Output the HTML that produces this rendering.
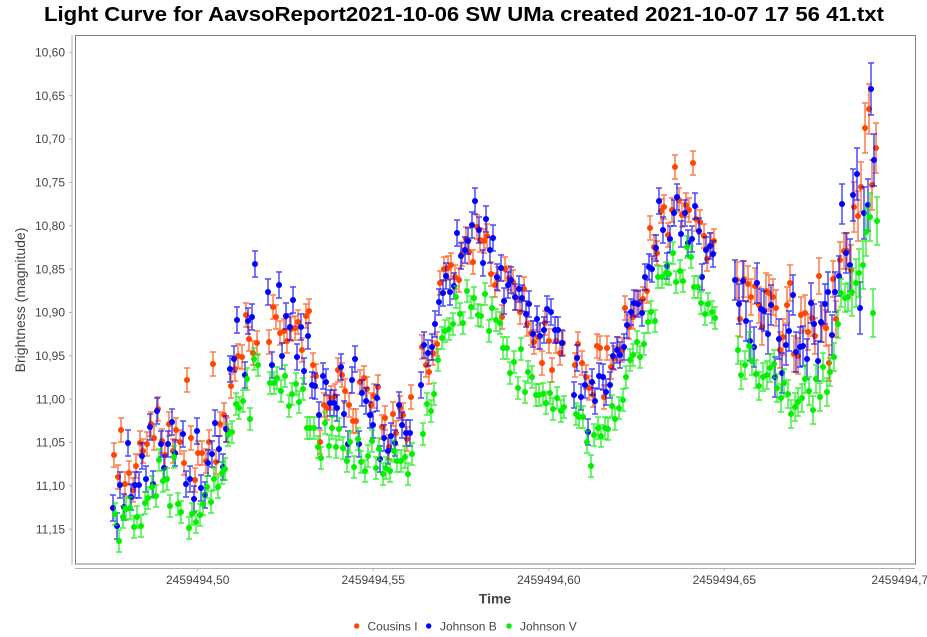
<!DOCTYPE html>
<html><head><meta charset="utf-8"><style>
html,body{margin:0;padding:0;background:#fff;}
svg{display:block;font-family:"Liberation Sans","DejaVu Sans",sans-serif;}
</style></head><body>
<svg width="927" height="637" viewBox="0 0 927 637" xmlns="http://www.w3.org/2000/svg">
<defs>
<g id="o1"><path d="M0-12V12M-3-12h6M-3 12h6" stroke="#ff4500" stroke-opacity=".7" stroke-width="1.5" fill="none"/><circle r="3" fill="#ff4500"/></g>
<g id="o2"><path d="M0-18V18M-3-18h6M-3 18h6" stroke="#ff4500" stroke-opacity=".7" stroke-width="1.5" fill="none"/><circle r="3" fill="#ff4500"/></g>
<g id="o3"><path d="M0-25V25M-3-25h6M-3 25h6" stroke="#ff4500" stroke-opacity=".7" stroke-width="1.5" fill="none"/><circle r="3" fill="#ff4500"/></g>
<g id="b1"><path d="M0-13V13M-3-13h6M-3 13h6" stroke="#0000ff" stroke-opacity=".7" stroke-width="1.5" fill="none"/><circle r="3" fill="#0000ff"/></g>
<g id="b2"><path d="M0-20V20M-3-20h6M-3 20h6" stroke="#0000ff" stroke-opacity=".7" stroke-width="1.5" fill="none"/><circle r="3" fill="#0000ff"/></g>
<g id="b3"><path d="M0-26V26M-3-26h6M-3 26h6" stroke="#0000ff" stroke-opacity=".7" stroke-width="1.5" fill="none"/><circle r="3" fill="#0000ff"/></g>
<g id="g1"><path d="M0-11V11M-3-11h6M-3 11h6" stroke="#00ee00" stroke-opacity=".75" stroke-width="1.5" fill="none"/><circle r="3" fill="#00f000"/></g>
<g id="g2"><path d="M0-14V14M-3-14h6M-3 14h6" stroke="#00ee00" stroke-opacity=".75" stroke-width="1.5" fill="none"/><circle r="3" fill="#00f000"/></g>
<g id="g3"><path d="M0-24V24M-3-24h6M-3 24h6" stroke="#00ee00" stroke-opacity=".75" stroke-width="1.5" fill="none"/><circle r="3" fill="#00f000"/></g>
</defs>
<rect width="927" height="637" fill="#fff"/>
<text x="464" y="21" text-anchor="middle" font-size="20" font-weight="bold" fill="#000" textLength="840" lengthAdjust="spacingAndGlyphs">Light Curve for AavsoReport2021-10-06 SW UMa created 2021-10-07 17 56 41.txt</text>
<!-- axes -->
<line x1="72" y1="35" x2="72" y2="565" stroke="#b0b0b0" stroke-width="1"/>
<line x1="75" y1="568.5" x2="915" y2="568.5" stroke="#b0b0b0" stroke-width="1"/>
<g stroke="#b0b0b0" stroke-width="1">
<line x1="69" y1="52.3" x2="72" y2="52.3"/><line x1="69" y1="95.7" x2="72" y2="95.7"/><line x1="69" y1="139" x2="72" y2="139"/><line x1="69" y1="182.4" x2="72" y2="182.4"/><line x1="69" y1="225.7" x2="72" y2="225.7"/><line x1="69" y1="269.1" x2="72" y2="269.1"/><line x1="69" y1="312.5" x2="72" y2="312.5"/><line x1="69" y1="355.8" x2="72" y2="355.8"/><line x1="69" y1="399.2" x2="72" y2="399.2"/><line x1="69" y1="442.5" x2="72" y2="442.5"/><line x1="69" y1="485.9" x2="72" y2="485.9"/><line x1="69" y1="529.3" x2="72" y2="529.3"/>
<line x1="197.7" y1="568" x2="197.7" y2="571"/><line x1="373.2" y1="568" x2="373.2" y2="571"/><line x1="548.8" y1="568" x2="548.8" y2="571"/><line x1="724.3" y1="568" x2="724.3" y2="571"/><line x1="899.8" y1="568" x2="899.8" y2="571"/>
</g>
<g font-size="12" fill="#444" text-anchor="end">
<text x="65" y="56.5">10,60</text><text x="65" y="99.9">10,65</text><text x="65" y="143.2">10,70</text><text x="65" y="186.6">10,75</text><text x="65" y="229.9">10,80</text><text x="65" y="273.3">10,85</text><text x="65" y="316.7">10,90</text><text x="65" y="360">10,95</text><text x="65" y="403.4">11,00</text><text x="65" y="446.7">11,05</text><text x="65" y="490.1">11,10</text><text x="65" y="533.5">11,15</text>
</g>
<g font-size="12" fill="#444" text-anchor="middle">
<text x="197.7" y="584">2459494,50</text><text x="373.2" y="584">2459494,55</text><text x="548.8" y="584">2459494,60</text><text x="724.3" y="584">2459494,65</text><text x="899.8" y="584">2459494,7</text>
</g>
<text x="495" y="603.5" font-size="14" font-weight="bold" fill="#444" text-anchor="middle">Time</text>
<text transform="translate(25,300) rotate(-90)" font-size="14" fill="#444" text-anchor="middle">Brightness (magnitude)</text>
<!-- legend -->
<circle cx="356.7" cy="626" r="2.7" fill="#ff4500"/><text x="367.5" y="630.5" font-size="12" fill="#444">Cousins I</text>
<circle cx="428.7" cy="626" r="2.7" fill="#0000ff"/><text x="440" y="630.5" font-size="12" fill="#444">Johnson B</text>
<circle cx="509" cy="626" r="2.7" fill="#00f000"/><text x="520" y="630.5" font-size="12" fill="#444">Johnson V</text>
<!-- plot -->
<svg x="75" y="35" width="840" height="529" viewBox="75 35 840 529" overflow="hidden">
<g>
<use href="#o1" x="114" y="455"/><use href="#o1" x="118" y="477"/><use href="#o1" x="121" y="430"/><use href="#o1" x="125" y="484"/><use href="#o1" x="129" y="473"/><use href="#o1" x="133" y="490"/><use href="#o1" x="136" y="466"/><use href="#o1" x="140" y="443"/><use href="#o1" x="143" y="451"/><use href="#o1" x="147" y="444"/><use href="#o1" x="151" y="424"/><use href="#o1" x="154" y="438"/><use href="#o1" x="158" y="409"/><use href="#o1" x="162" y="441"/><use href="#o1" x="165" y="455"/><use href="#o1" x="169" y="424"/><use href="#o1" x="173" y="451"/><use href="#o1" x="176" y="430"/><use href="#o1" x="180" y="442"/><use href="#o1" x="184" y="463"/><use href="#o1" x="187" y="380"/><use href="#o1" x="191" y="438"/><use href="#o1" x="195" y="480"/><use href="#o1" x="198" y="453"/><use href="#o1" x="202" y="453"/><use href="#o1" x="206" y="461"/><use href="#o1" x="209" y="442"/><use href="#o1" x="213" y="364"/><use href="#o1" x="216" y="462"/><use href="#o1" x="220" y="424"/><use href="#o1" x="224" y="415"/><use href="#o1" x="227" y="430"/><use href="#o1" x="231" y="386"/><use href="#o1" x="235" y="369"/><use href="#o1" x="238" y="356"/><use href="#o1" x="242" y="357"/><use href="#o1" x="246" y="315"/><use href="#o1" x="249" y="339"/><use href="#o1" x="253" y="353"/><use href="#o1" x="257" y="343"/>
<use href="#o1" x="269" y="342"/><use href="#o1" x="273" y="307"/><use href="#o1" x="276" y="317"/><use href="#o1" x="280" y="333"/><use href="#o1" x="284" y="331"/><use href="#o1" x="287" y="341"/><use href="#o1" x="291" y="329"/><use href="#o1" x="295" y="328"/><use href="#o1" x="298" y="322"/><use href="#o1" x="302" y="350"/><use href="#o1" x="306" y="316"/><use href="#o1" x="309" y="311"/><use href="#o1" x="313" y="365"/><use href="#o1" x="316" y="376"/><use href="#o1" x="320" y="442"/><use href="#o1" x="324" y="405"/><use href="#o1" x="327" y="408"/><use href="#o1" x="331" y="398"/><use href="#o1" x="335" y="396"/><use href="#o1" x="338" y="370"/><use href="#o1" x="342" y="375"/><use href="#o1" x="345" y="391"/><use href="#o1" x="349" y="405"/><use href="#o1" x="353" y="421"/><use href="#o1" x="356" y="421"/><use href="#o1" x="360" y="382"/><use href="#o1" x="364" y="378"/><use href="#o1" x="367" y="389"/><use href="#o1" x="371" y="405"/><use href="#o1" x="374" y="396"/><use href="#o1" x="378" y="387"/><use href="#o1" x="382" y="427"/><use href="#o1" x="385" y="418"/><use href="#o1" x="389" y="447"/><use href="#o1" x="393" y="414"/><use href="#o1" x="396" y="433"/><use href="#o1" x="400" y="408"/><use href="#o1" x="403" y="415"/><use href="#o1" x="407" y="439"/><use href="#o1" x="411" y="397"/>
<use href="#o1" x="422" y="347"/><use href="#o1" x="426" y="365"/><use href="#o1" x="429" y="372"/><use href="#o1" x="433" y="353"/><use href="#o1" x="437" y="344"/><use href="#o1" x="440" y="283"/><use href="#o1" x="444" y="269"/><use href="#o1" x="448" y="268"/><use href="#o1" x="451" y="265"/><use href="#o1" x="455" y="277"/><use href="#o1" x="459" y="280"/><use href="#o1" x="462" y="254"/><use href="#o1" x="466" y="239"/><use href="#o1" x="469" y="252"/><use href="#o1" x="473" y="262"/><use href="#o1" x="477" y="227"/><use href="#o1" x="480" y="240"/><use href="#o1" x="484" y="241"/><use href="#o1" x="487" y="236"/><use href="#o1" x="491" y="274"/><use href="#o1" x="495" y="285"/><use href="#o1" x="498" y="279"/><use href="#o1" x="502" y="317"/><use href="#o1" x="505" y="269"/><use href="#o1" x="509" y="278"/><use href="#o1" x="513" y="282"/><use href="#o1" x="516" y="298"/><use href="#o1" x="520" y="312"/><use href="#o1" x="524" y="289"/><use href="#o1" x="527" y="324"/><use href="#o1" x="531" y="333"/><use href="#o1" x="534" y="342"/><use href="#o1" x="538" y="337"/><use href="#o1" x="542" y="363"/><use href="#o1" x="545" y="323"/><use href="#o1" x="549" y="341"/><use href="#o1" x="552" y="370"/><use href="#o1" x="556" y="341"/><use href="#o1" x="560" y="353"/><use href="#o1" x="563" y="343"/>
<use href="#o1" x="575" y="365"/><use href="#o1" x="578" y="344"/><use href="#o1" x="582" y="363"/><use href="#o1" x="586" y="377"/><use href="#o1" x="589" y="388"/><use href="#o1" x="593" y="395"/><use href="#o1" x="597" y="346"/><use href="#o1" x="600" y="348"/><use href="#o1" x="604" y="397"/><use href="#o1" x="607" y="348"/><use href="#o1" x="611" y="367"/><use href="#o1" x="614" y="358"/><use href="#o1" x="618" y="349"/><use href="#o1" x="622" y="350"/><use href="#o1" x="625" y="308"/><use href="#o1" x="629" y="327"/><use href="#o1" x="633" y="317"/><use href="#o1" x="636" y="303"/><use href="#o1" x="640" y="302"/><use href="#o1" x="643" y="299"/><use href="#o1" x="647" y="291"/><use href="#o1" x="650" y="228"/><use href="#o1" x="654" y="247"/><use href="#o1" x="657" y="253"/><use href="#o1" x="661" y="211"/><use href="#o1" x="664" y="207"/><use href="#o1" x="668" y="235"/><use href="#o1" x="672" y="210"/><use href="#o1" x="675" y="167"/><use href="#o1" x="679" y="200"/><use href="#o1" x="682" y="215"/><use href="#o1" x="686" y="205"/><use href="#o1" x="689" y="210"/><use href="#o1" x="693" y="163"/><use href="#o1" x="696" y="219"/><use href="#o1" x="700" y="222"/><use href="#o1" x="704" y="236"/><use href="#o1" x="707" y="259"/><use href="#o1" x="711" y="245"/><use href="#o1" x="714" y="241"/>
<use href="#o2" x="737" y="280"/><use href="#o2" x="740" y="319"/><use href="#o2" x="744" y="279"/><use href="#o2" x="748" y="284"/><use href="#o2" x="751" y="297"/><use href="#o2" x="755" y="286"/><use href="#o2" x="759" y="305"/><use href="#o2" x="762" y="327"/><use href="#o2" x="766" y="291"/><use href="#o2" x="769" y="293"/><use href="#o2" x="773" y="297"/><use href="#o2" x="776" y="308"/><use href="#o2" x="780" y="350"/><use href="#o2" x="783" y="337"/><use href="#o2" x="787" y="305"/><use href="#o2" x="790" y="283"/><use href="#o2" x="794" y="354"/><use href="#o2" x="798" y="356"/><use href="#o2" x="801" y="315"/><use href="#o2" x="805" y="313"/><use href="#o2" x="808" y="332"/><use href="#o2" x="812" y="318"/><use href="#o2" x="815" y="336"/><use href="#o2" x="819" y="276"/><use href="#o2" x="822" y="324"/><use href="#o2" x="826" y="328"/><use href="#o2" x="829" y="363"/><use href="#o2" x="833" y="279"/><use href="#o2" x="836" y="319"/><use href="#o2" x="840" y="260"/><use href="#o2" x="844" y="251"/><use href="#o2" x="847" y="251"/><use href="#o3" x="851" y="270"/><use href="#o3" x="854" y="207"/><use href="#o3" x="858" y="216"/><use href="#o3" x="861" y="187"/><use href="#o3" x="865" y="128"/><use href="#o3" x="869" y="109"/><use href="#o3" x="872" y="185"/><use href="#o3" x="876" y="148"/>
</g>
<g>
<use href="#b1" x="113" y="508"/><use href="#b1" x="117" y="526"/><use href="#b1" x="120" y="485"/><use href="#b1" x="124" y="507"/><use href="#b1" x="128" y="443"/><use href="#b1" x="131" y="497"/><use href="#b1" x="135" y="485"/><use href="#b1" x="139" y="485"/><use href="#b1" x="142" y="456"/><use href="#b1" x="146" y="479"/><use href="#b1" x="150" y="427"/><use href="#b1" x="153" y="484"/><use href="#b1" x="157" y="411"/><use href="#b1" x="161" y="444"/><use href="#b1" x="164" y="468"/><use href="#b1" x="168" y="444"/><use href="#b1" x="172" y="422"/><use href="#b1" x="175" y="453"/><use href="#b1" x="183" y="434"/><use href="#b1" x="186" y="484"/><use href="#b1" x="190" y="479"/><use href="#b1" x="194" y="499"/><use href="#b1" x="197" y="431"/><use href="#b1" x="201" y="488"/><use href="#b1" x="205" y="495"/><use href="#b1" x="208" y="463"/><use href="#b1" x="212" y="454"/><use href="#b1" x="215" y="423"/><use href="#b1" x="219" y="449"/><use href="#b1" x="223" y="467"/><use href="#b1" x="226" y="429"/><use href="#b1" x="230" y="369"/><use href="#b1" x="234" y="359"/><use href="#b1" x="237" y="320"/><use href="#b1" x="245" y="375"/><use href="#b1" x="248" y="321"/><use href="#b1" x="252" y="317"/><use href="#b1" x="255" y="264"/>
<use href="#b1" x="268" y="292"/><use href="#b1" x="272" y="365"/><use href="#b1" x="279" y="285"/><use href="#b1" x="282" y="356"/><use href="#b1" x="286" y="316"/><use href="#b1" x="290" y="327"/><use href="#b1" x="293" y="300"/><use href="#b1" x="297" y="357"/><use href="#b1" x="301" y="327"/><use href="#b1" x="304" y="371"/><use href="#b1" x="308" y="336"/><use href="#b1" x="312" y="385"/><use href="#b1" x="315" y="386"/><use href="#b1" x="319" y="415"/><use href="#b1" x="323" y="376"/><use href="#b1" x="326" y="382"/><use href="#b1" x="330" y="403"/><use href="#b1" x="334" y="403"/><use href="#b1" x="337" y="408"/><use href="#b1" x="341" y="367"/><use href="#b1" x="344" y="414"/><use href="#b1" x="348" y="444"/><use href="#b1" x="352" y="380"/><use href="#b1" x="355" y="359"/><use href="#b1" x="359" y="444"/><use href="#b1" x="362" y="393"/><use href="#b1" x="366" y="401"/><use href="#b1" x="370" y="415"/><use href="#b1" x="373" y="425"/><use href="#b1" x="377" y="398"/><use href="#b1" x="380" y="459"/><use href="#b1" x="384" y="438"/><use href="#b1" x="388" y="451"/><use href="#b1" x="391" y="436"/><use href="#b1" x="395" y="443"/><use href="#b1" x="399" y="405"/><use href="#b1" x="402" y="425"/><use href="#b1" x="406" y="433"/><use href="#b1" x="410" y="433"/>
<use href="#b1" x="421" y="385"/><use href="#b1" x="424" y="345"/><use href="#b1" x="428" y="353"/><use href="#b1" x="432" y="347"/><use href="#b1" x="435" y="324"/><use href="#b1" x="439" y="302"/><use href="#b1" x="443" y="293"/><use href="#b1" x="446" y="276"/><use href="#b1" x="450" y="292"/><use href="#b1" x="454" y="286"/><use href="#b1" x="457" y="233"/><use href="#b1" x="461" y="256"/><use href="#b1" x="465" y="250"/><use href="#b1" x="468" y="241"/><use href="#b1" x="472" y="225"/><use href="#b1" x="475" y="201"/><use href="#b1" x="479" y="230"/><use href="#b1" x="483" y="263"/><use href="#b1" x="486" y="219"/><use href="#b1" x="490" y="250"/><use href="#b1" x="493" y="238"/><use href="#b1" x="497" y="277"/><use href="#b1" x="501" y="268"/><use href="#b1" x="504" y="301"/><use href="#b1" x="508" y="285"/><use href="#b1" x="511" y="280"/><use href="#b1" x="515" y="297"/><use href="#b1" x="519" y="289"/><use href="#b1" x="522" y="298"/><use href="#b1" x="526" y="314"/><use href="#b1" x="529" y="304"/><use href="#b1" x="533" y="334"/><use href="#b1" x="537" y="319"/><use href="#b1" x="540" y="336"/><use href="#b1" x="544" y="330"/><use href="#b1" x="547" y="309"/><use href="#b1" x="551" y="312"/><use href="#b1" x="555" y="330"/><use href="#b1" x="558" y="330"/><use href="#b1" x="562" y="343"/>
<use href="#b1" x="574" y="395"/><use href="#b1" x="577" y="358"/><use href="#b1" x="581" y="397"/><use href="#b1" x="585" y="385"/><use href="#b1" x="588" y="432"/><use href="#b1" x="592" y="382"/><use href="#b1" x="595" y="401"/><use href="#b1" x="599" y="376"/><use href="#b1" x="603" y="377"/><use href="#b1" x="606" y="392"/><use href="#b1" x="610" y="385"/><use href="#b1" x="613" y="356"/><use href="#b1" x="617" y="350"/><use href="#b1" x="620" y="355"/><use href="#b1" x="624" y="347"/><use href="#b1" x="627" y="325"/><use href="#b1" x="631" y="312"/><use href="#b1" x="634" y="303"/><use href="#b1" x="638" y="304"/><use href="#b1" x="642" y="313"/><use href="#b1" x="645" y="277"/><use href="#b1" x="649" y="267"/><use href="#b1" x="652" y="269"/><use href="#b1" x="656" y="248"/><use href="#b1" x="659" y="201"/><use href="#b1" x="663" y="230"/><use href="#b1" x="667" y="266"/><use href="#b1" x="670" y="239"/><use href="#b1" x="674" y="213"/><use href="#b1" x="677" y="197"/><use href="#b1" x="681" y="234"/><use href="#b1" x="685" y="213"/><use href="#b1" x="688" y="243"/><use href="#b1" x="692" y="239"/><use href="#b1" x="695" y="206"/><use href="#b1" x="699" y="231"/><use href="#b1" x="702" y="277"/><use href="#b1" x="706" y="250"/><use href="#b1" x="710" y="246"/><use href="#b1" x="713" y="254"/>
<use href="#b2" x="735" y="280"/><use href="#b2" x="739" y="304"/><use href="#b2" x="743" y="281"/><use href="#b2" x="746" y="321"/><use href="#b2" x="750" y="341"/><use href="#b2" x="754" y="347"/><use href="#b2" x="757" y="283"/><use href="#b2" x="761" y="309"/><use href="#b2" x="764" y="311"/><use href="#b2" x="768" y="334"/><use href="#b2" x="771" y="305"/><use href="#b2" x="775" y="377"/><use href="#b2" x="779" y="339"/><use href="#b2" x="782" y="373"/><use href="#b2" x="786" y="345"/><use href="#b2" x="789" y="331"/><use href="#b2" x="793" y="295"/><use href="#b2" x="796" y="352"/><use href="#b2" x="800" y="347"/><use href="#b2" x="803" y="346"/><use href="#b2" x="807" y="359"/><use href="#b2" x="811" y="303"/><use href="#b2" x="814" y="324"/><use href="#b2" x="818" y="361"/><use href="#b2" x="821" y="322"/><use href="#b2" x="825" y="304"/><use href="#b2" x="828" y="292"/><use href="#b2" x="832" y="335"/><use href="#b2" x="835" y="292"/><use href="#b2" x="839" y="276"/><use href="#b2" x="842" y="204"/><use href="#b2" x="846" y="253"/><use href="#b3" x="850" y="265"/><use href="#b3" x="853" y="195"/><use href="#b3" x="857" y="174"/><use href="#b3" x="860" y="308"/><use href="#b3" x="864" y="213"/><use href="#b3" x="868" y="205"/><use href="#b3" x="871" y="89"/><use href="#b3" x="874" y="160"/>
</g>
<g>
<use href="#g1" x="115" y="514"/><use href="#g1" x="119" y="541"/><use href="#g1" x="123" y="517"/><use href="#g1" x="126" y="509"/><use href="#g1" x="130" y="508"/><use href="#g1" x="134" y="527"/><use href="#g1" x="137" y="517"/><use href="#g1" x="141" y="526"/><use href="#g1" x="145" y="503"/><use href="#g1" x="148" y="498"/><use href="#g1" x="152" y="487"/><use href="#g1" x="156" y="496"/><use href="#g1" x="159" y="460"/><use href="#g1" x="163" y="481"/><use href="#g1" x="167" y="479"/><use href="#g1" x="170" y="506"/><use href="#g1" x="174" y="457"/><use href="#g1" x="178" y="504"/><use href="#g1" x="181" y="512"/><use href="#g1" x="189" y="528"/><use href="#g1" x="192" y="514"/><use href="#g1" x="196" y="522"/><use href="#g1" x="200" y="515"/><use href="#g1" x="203" y="504"/><use href="#g1" x="207" y="487"/><use href="#g1" x="211" y="502"/><use href="#g1" x="214" y="479"/><use href="#g1" x="218" y="487"/><use href="#g1" x="222" y="473"/><use href="#g1" x="225" y="469"/><use href="#g1" x="228" y="435"/><use href="#g1" x="232" y="432"/><use href="#g1" x="236" y="404"/><use href="#g1" x="239" y="408"/><use href="#g1" x="243" y="401"/><use href="#g1" x="247" y="379"/><use href="#g1" x="250" y="419"/><use href="#g1" x="254" y="359"/><use href="#g1" x="258" y="365"/>
<use href="#g1" x="270" y="383"/><use href="#g1" x="274" y="383"/><use href="#g1" x="277" y="378"/><use href="#g1" x="281" y="391"/><use href="#g1" x="285" y="376"/><use href="#g1" x="289" y="406"/><use href="#g1" x="292" y="394"/><use href="#g1" x="296" y="384"/><use href="#g1" x="299" y="402"/><use href="#g1" x="303" y="389"/><use href="#g1" x="307" y="428"/><use href="#g1" x="310" y="428"/><use href="#g1" x="314" y="428"/><use href="#g1" x="318" y="447"/><use href="#g1" x="321" y="458"/><use href="#g1" x="325" y="423"/><use href="#g1" x="329" y="446"/><use href="#g1" x="332" y="428"/><use href="#g1" x="336" y="447"/><use href="#g1" x="339" y="429"/><use href="#g1" x="343" y="448"/><use href="#g1" x="347" y="461"/><use href="#g1" x="350" y="442"/><use href="#g1" x="354" y="467"/><use href="#g1" x="358" y="439"/><use href="#g1" x="361" y="462"/><use href="#g1" x="365" y="471"/><use href="#g1" x="368" y="456"/><use href="#g1" x="372" y="441"/><use href="#g1" x="376" y="468"/><use href="#g1" x="379" y="449"/><use href="#g1" x="383" y="474"/><use href="#g1" x="386" y="468"/><use href="#g1" x="390" y="471"/><use href="#g1" x="394" y="451"/><use href="#g1" x="397" y="461"/><use href="#g1" x="401" y="461"/><use href="#g1" x="405" y="457"/><use href="#g1" x="408" y="474"/><use href="#g1" x="412" y="454"/>
<use href="#g1" x="423" y="434"/><use href="#g1" x="427" y="404"/><use href="#g1" x="431" y="411"/><use href="#g1" x="434" y="394"/><use href="#g1" x="438" y="360"/><use href="#g1" x="442" y="338"/><use href="#g1" x="445" y="331"/><use href="#g1" x="449" y="329"/><use href="#g1" x="453" y="324"/><use href="#g1" x="456" y="297"/><use href="#g1" x="460" y="314"/><use href="#g1" x="463" y="323"/><use href="#g1" x="467" y="291"/><use href="#g1" x="471" y="307"/><use href="#g1" x="474" y="298"/><use href="#g1" x="478" y="315"/><use href="#g1" x="481" y="316"/><use href="#g1" x="485" y="294"/><use href="#g1" x="489" y="331"/><use href="#g1" x="492" y="308"/><use href="#g1" x="496" y="320"/><use href="#g1" x="500" y="323"/><use href="#g1" x="503" y="348"/><use href="#g1" x="507" y="348"/><use href="#g1" x="510" y="373"/><use href="#g1" x="514" y="362"/><use href="#g1" x="518" y="388"/><use href="#g1" x="521" y="349"/><use href="#g1" x="525" y="392"/><use href="#g1" x="528" y="372"/><use href="#g1" x="532" y="377"/><use href="#g1" x="536" y="395"/><use href="#g1" x="539" y="395"/><use href="#g1" x="543" y="394"/><use href="#g1" x="546" y="403"/><use href="#g1" x="550" y="393"/><use href="#g1" x="553" y="409"/><use href="#g1" x="557" y="398"/><use href="#g1" x="561" y="411"/><use href="#g1" x="564" y="407"/>
<use href="#g1" x="576" y="414"/><use href="#g1" x="579" y="417"/><use href="#g1" x="583" y="417"/><use href="#g1" x="587" y="442"/><use href="#g1" x="591" y="466"/><use href="#g1" x="594" y="435"/><use href="#g1" x="598" y="428"/><use href="#g1" x="601" y="436"/><use href="#g1" x="605" y="428"/><use href="#g1" x="608" y="429"/><use href="#g1" x="612" y="406"/><use href="#g1" x="615" y="419"/><use href="#g1" x="619" y="408"/><use href="#g1" x="623" y="400"/><use href="#g1" x="626" y="377"/><use href="#g1" x="630" y="360"/><use href="#g1" x="633" y="355"/><use href="#g1" x="637" y="342"/><use href="#g1" x="640" y="357"/><use href="#g1" x="644" y="344"/><use href="#g1" x="648" y="322"/><use href="#g1" x="651" y="312"/><use href="#g1" x="655" y="321"/><use href="#g1" x="658" y="277"/><use href="#g1" x="662" y="277"/><use href="#g1" x="666" y="273"/><use href="#g1" x="669" y="274"/><use href="#g1" x="673" y="253"/><use href="#g1" x="676" y="282"/><use href="#g1" x="680" y="271"/><use href="#g1" x="683" y="281"/><use href="#g1" x="687" y="247"/><use href="#g1" x="691" y="257"/><use href="#g1" x="694" y="287"/><use href="#g1" x="698" y="287"/><use href="#g1" x="701" y="303"/><use href="#g1" x="705" y="314"/><use href="#g1" x="708" y="304"/><use href="#g1" x="712" y="312"/><use href="#g1" x="715" y="318"/>
<use href="#g2" x="738" y="350"/><use href="#g2" x="741" y="375"/><use href="#g2" x="745" y="365"/><use href="#g2" x="749" y="346"/><use href="#g2" x="752" y="361"/><use href="#g2" x="756" y="374"/><use href="#g2" x="759" y="386"/><use href="#g2" x="763" y="377"/><use href="#g2" x="767" y="375"/><use href="#g2" x="770" y="368"/><use href="#g2" x="774" y="364"/><use href="#g2" x="777" y="388"/><use href="#g2" x="781" y="398"/><use href="#g2" x="784" y="383"/><use href="#g2" x="788" y="394"/><use href="#g2" x="791" y="414"/><use href="#g2" x="795" y="407"/><use href="#g2" x="798" y="402"/><use href="#g2" x="802" y="398"/><use href="#g2" x="805" y="379"/><use href="#g2" x="809" y="391"/><use href="#g2" x="813" y="410"/><use href="#g2" x="816" y="379"/><use href="#g2" x="820" y="397"/><use href="#g2" x="823" y="367"/><use href="#g2" x="827" y="392"/><use href="#g2" x="830" y="372"/><use href="#g2" x="834" y="357"/><use href="#g2" x="838" y="324"/><use href="#g2" x="841" y="293"/><use href="#g2" x="845" y="298"/><use href="#g2" x="848" y="297"/><use href="#g3" x="852" y="292"/><use href="#g3" x="856" y="283"/><use href="#g3" x="859" y="273"/><use href="#g3" x="863" y="265"/><use href="#g3" x="866" y="232"/><use href="#g3" x="870" y="217"/><use href="#g3" x="873" y="313"/><use href="#g3" x="877" y="221"/>
</g>
</svg>
<rect x="75.5" y="35.5" width="840" height="528.5" fill="none" stroke="#808080" stroke-width="1"/>
</svg>
</body></html>
